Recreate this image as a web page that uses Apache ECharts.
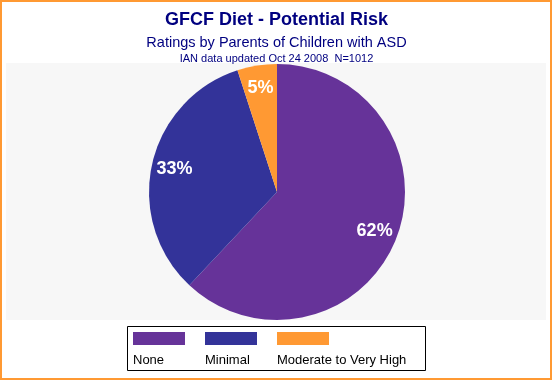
<!DOCTYPE html>
<html><head><meta charset="utf-8">
<script src="https://cdn.jsdelivr.net/npm/echarts@6/dist/echarts.min.js"></script>
<style>html,body{margin:0;padding:0;background:#fff}#c{width:553px;height:381px}</style>
</head><body><div id="c"></div>
<script>
const categories = ['None', 'Minimal', 'Moderate to Very High'];
const values = [62, 33, 5];
const colors = ['#663399', '#333399', '#FF9933'];
const titleText = 'GFCF Diet - Potential Risk';
const subtitleText = 'Ratings by Parents of Children with ASD';
const noteText = 'IAN data updated Oct 24 2008  N=1012';

const FONT = '"Liberation Sans", Arial, sans-serif';
const chart = echarts.init(document.getElementById('c'), null, {renderer: 'canvas'});

const pieData = categories.map((n, i) => ({name: n, value: values[i], itemStyle: {color: colors[i]}}));
const labelData = categories.map((n, i) => ({name: n, value: values[i]}));

const legendGraphics = [];
categories.forEach((n, i) => {
  const x = 133 + i * 72;
  legendGraphics.push({type: 'rect', shape: {x: x, y: 332, width: 52, height: 13}, style: {fill: colors[i]}, z: 50});
  legendGraphics.push({type: 'text', x: x, y: 360.5, style: {text: n, fill: '#000', font: '13px ' + FONT, textAlign: 'left', textVerticalAlign: 'middle', verticalAlign: 'middle'}, z: 50});
});

chart.setOption({
  animation: false,
  backgroundColor: '#fff',
  title: [
    {text: titleText, left: 'center', top: 6, textStyle: {color: '#000080', fontSize: 18, fontWeight: 'bold', fontFamily: FONT, lineHeight: 18}},
    {text: subtitleText, left: 'center', top: 30, textStyle: {color: '#000080', fontSize: 14.5, fontWeight: 'normal', fontFamily: FONT, lineHeight: 15}},
    {text: noteText, left: 'center', top: 48, textStyle: {color: '#000080', fontSize: 11, fontWeight: 'normal', fontFamily: FONT, lineHeight: 11}}
  ],
  graphic: [
    {type: 'rect', shape: {x: 6, y: 63, width: 540, height: 257}, style: {fill: '#F7F7F7'}, z: -10, silent: true},
    {type: 'rect', shape: {x: 1, y: 1, width: 550, height: 378}, style: {fill: 'none', stroke: '#FF9933', lineWidth: 2}, z: 100, silent: true},
    {type: 'rect', shape: {x: 127.5, y: 326.5, width: 298, height: 44}, style: {fill: '#fff', stroke: '#000', lineWidth: 1}, z: 40, silent: true}
  ].concat(legendGraphics),
  series: [
    {
      type: 'pie', center: [277, 192], radius: [0, 128], startAngle: 90, clockwise: true,
      label: {show: false}, labelLine: {show: false}, silent: true,
      emphasis: {disabled: true},
      data: pieData
    },
    {
      type: 'pie', center: [277, 192], radius: [76, 128], startAngle: 90, clockwise: true,
      silent: true, emphasis: {disabled: true}, z: 5,
      itemStyle: {color: 'rgba(0,0,0,0)', borderWidth: 0},
      label: {show: true, position: 'inside', formatter: p => p.value + '%', color: '#fff', fontSize: 18, fontWeight: 'bold', fontFamily: FONT},
      labelLine: {show: false},
      data: labelData
    }
  ]
});
</script>
</body></html>
